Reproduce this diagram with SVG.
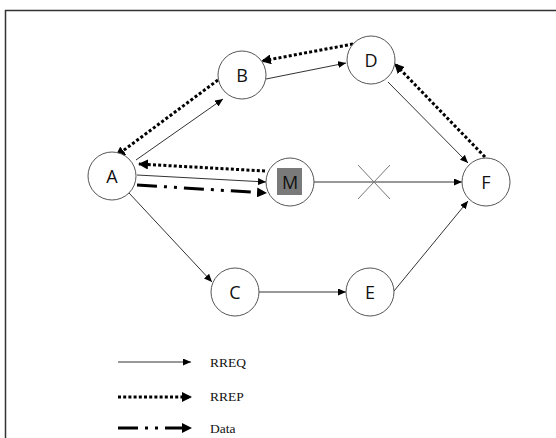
<svg xmlns="http://www.w3.org/2000/svg" width="556" height="438" viewBox="0 0 556 438">
  <style>
    .node circle { fill: #fff; stroke: #555; stroke-width: 1; }
    .node text { font-family: "Open Sans", "Liberation Sans", sans-serif; font-size: 18px; fill: #111; text-anchor: middle; dominant-baseline: central; }
    .rreq { stroke: #333; stroke-width: 1; fill: none; marker-end: url(#headSolid); }
    .rrep { stroke: #000; stroke-width: 3; stroke-dasharray: 3 2.2; fill: none; marker-end: url(#headBold); }
    .data { stroke: #000; stroke-width: 3; stroke-dasharray: 20 7 3 7 3 7; fill: none; marker-end: url(#headBold); }
    .legend text { font-family: "Liberation Serif", serif; font-size: 13.5px; fill: #111; }
    .cut { stroke: #777; stroke-width: 1; }
  </style>
  <defs>
    <marker id="headSolid" markerUnits="userSpaceOnUse" markerWidth="8" markerHeight="7" refX="8" refY="3.5" orient="auto">
      <path d="M0,0 L8,3.5 L0,7 z" fill="#000"/>
    </marker>
    <marker id="headBold" markerUnits="userSpaceOnUse" markerWidth="10" markerHeight="10" refX="9" refY="5" orient="auto">
      <path d="M0,0 L10,5 L0,10 z" fill="#000"/>
    </marker>
  </defs>

  <rect width="556" height="438" fill="#fff"/>
  <!-- frame (top and left edges) -->
  <path d="M5.5,438 V10.5 H556" fill="none" stroke="#333" stroke-width="1.5"/>

  <g id="connectors">
    <line class="rreq" x1="136" y1="160" x2="223" y2="99"/>
    <line class="rrep" x1="218" y1="80" x2="116" y2="156"/>
    <line class="rreq" x1="266" y1="79" x2="346" y2="63"/>
    <line class="rrep" x1="353" y1="44" x2="262" y2="61"/>
    <line class="rreq" x1="137" y1="175" x2="266" y2="182"/>
    <line class="rrep" x1="265" y1="171" x2="139" y2="164"/>
    <line class="data" x1="137" y1="185" x2="266" y2="193"/>
    <line class="rreq" x1="314" y1="182" x2="462" y2="182"/>
    <line class="rreq" x1="388" y1="82" x2="468" y2="163"/>
    <line class="rrep" x1="485" y1="157" x2="395" y2="64"/>
    <line class="rreq" x1="129" y1="193" x2="212" y2="282"/>
    <line class="rreq" x1="259" y1="292" x2="346" y2="292"/>
    <line class="rreq" x1="394" y1="291" x2="468" y2="201"/>
    <!-- broken link between M and F -->
    <line class="cut" x1="358" y1="165" x2="390" y2="199"/>
    <line class="cut" x1="358" y1="199" x2="390" y2="165"/>
  </g>

  <g id="node-A" class="node"><circle cx="112" cy="176" r="24"/><text x="112" y="176">A</text></g>
  <g id="node-B" class="node"><circle cx="242" cy="75" r="24"/><text x="242" y="75">B</text></g>
  <g id="node-D" class="node"><circle cx="371" cy="60" r="24"/><text x="371" y="60">D</text></g>
  <g id="node-M" class="node"><circle cx="290" cy="182" r="24"/><rect x="277" y="168" width="25" height="27" fill="#7a7a7a"/><text x="290" y="182">M</text></g>
  <g id="node-F" class="node"><circle cx="486" cy="182" r="24"/><text x="486" y="182">F</text></g>
  <g id="node-C" class="node"><circle cx="235" cy="292" r="24"/><text x="235" y="292">C</text></g>
  <g id="node-E" class="node"><circle cx="370" cy="292" r="24"/><text x="370" y="292">E</text></g>

  <g id="legend" class="legend">
    <line class="rreq" x1="118" y1="362" x2="191" y2="362"/>
    <text x="210" y="367">RREQ</text>
    <line class="rrep" x1="118" y1="397" x2="191" y2="397"/>
    <text x="210" y="401">RREP</text>
    <line class="data" x1="118" y1="428" x2="191" y2="428"/>
    <text x="210" y="433">Data</text>
  </g>
</svg>
